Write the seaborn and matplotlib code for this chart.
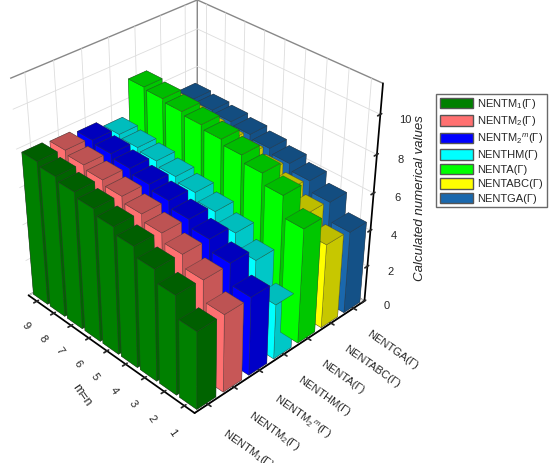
import numpy as np
import matplotlib
matplotlib.use("Agg")
import matplotlib.pyplot as plt
import matplotlib.colors as mcolors
import seaborn as sns
from matplotlib.patches import Patch

# DATA
m_values = [1, 2, 3, 4, 5, 6, 7, 8, 9]
index_labels = [r"NENTM$_1$(Γ)", r"NENTM$_2$(Γ)", r"NENTM$_2$$^m$(Γ)", "NENTHM(Γ)",
                "NENTA(Γ)", "NENTABC(Γ)", "NENTGA(Γ)"]
nentm1 = [4.2, 5.35, 6.0, 6.5, 6.85, 7.15, 7.4, 7.6, 7.8]
nentm2 = [4.2, 5.3, 5.95, 6.4, 6.75, 7.05, 7.3, 7.5, 7.7]
nentm2m = [4.25, 5.35, 5.95, 6.35, 6.7, 6.95, 7.2, 7.4, 7.55]
nenthm = [3.0, 4.7, 5.5, 6.0, 6.4, 6.65, 6.9, 7.05, 7.2]
nenta = [6.2, 7.3, 7.85, 8.2, 8.45, 8.65, 8.8, 8.95, 9.05]
nentabc = [4.6, 5.6, 6.2, 6.6, 6.9, 7.1, 7.25, 7.4, 7.5]
nentga = [4.5, 5.5, 6.05, 6.4, 6.65, 6.85, 7.0, 7.1, 7.2]
series = [nentm1, nentm2, nentm2m, nenthm, nenta, nentabc, nentga]
bar_colors = ["#008000", "#ff7070", "#0000ff", "#00ffff", "#00ff00", "#ffff00", "#1a68ad"]

sns.set_theme(style="white")
plt.rcParams["font.family"] = ["Liberation Sans", "DejaVu Sans"]
plt.rcParams["mathtext.fontset"] = "custom"
plt.rcParams["mathtext.rm"] = "Liberation Sans"
plt.rcParams["mathtext.it"] = "Liberation Sans:italic"

fig = plt.figure(figsize=(5.5, 4.63), dpi=100)
ax = fig.add_axes([-0.085, 0.065, 0.86, 1.0], projection="3d")

# bars: x = index (category), y = m
xs, ys, hs, cols = [], [], [], []
w, d = 0.72, 0.85
for ci, vals in enumerate(series):
    base = np.array(mcolors.to_rgb(bar_colors[ci]))
    dark = base * 0.78
    top = base * 0.74
    for mi, v in zip(m_values, vals):
        xs.append(ci - w / 2)
        ys.append(mi - d / 2)
        hs.append(v)
        # faces: -Z, +Z, -Y, +Y, -X, +X
        cols += [dark, top, dark, dark, base, base]

ax.bar3d(xs, ys, np.zeros(len(hs)), w, d, hs, color=cols, shade=False,
         edgecolor=(0.2, 0.2, 0.2, 0.55), linewidth=0.4)

ax.set_xlim(-0.5, 6.5)
ax.set_ylim(0.5, 9.5)
ax.set_zlim(0, 11.5)
ax.set_proj_type("persp", focal_length=0.55)
ax.view_init(elev=33.5, azim=-134)
ax.set_box_aspect((1.0, 1.02, 1.05), zoom=0.92)

ax.set_xticks(range(len(index_labels)))
ax.set_xticklabels(index_labels, fontsize=8, rotation=-35, ha="left", va="top")
ax.set_yticks(m_values)
ax.set_yticklabels([str(m) for m in m_values], fontsize=8, rotation=-55)
ax.set_zticks([0, 2, 4, 6, 8, 10])
ax.tick_params(axis="z", labelsize=8)
ax.set_ylabel("m=n", fontsize=9, rotation=-55)
ax.yaxis.set_rotate_label(False)
ax.zaxis.set_rotate_label(False)
ax.set_zlabel("Calculated numerical values", fontsize=9.5, fontstyle="italic", rotation=90,
              labelpad=2)
ax.zaxis._axinfo["juggled"] = (1, 2, 0)

for axis in (ax.xaxis, ax.yaxis, ax.zaxis):
    axis.set_pane_color((1, 1, 1, 1))
    axis.pane.set_edgecolor("#888888")
    axis._axinfo["grid"]["color"] = "#dddddd"
    axis._axinfo["grid"]["linewidth"] = 0.6
    axis.line.set_color("black")
ax.grid(True)

handles = [Patch(facecolor=c, edgecolor="#555555", label=l) for c, l in zip(bar_colors, index_labels)]
fig.legend(handles=handles, loc="upper left", bbox_to_anchor=(0.783, 0.81), fontsize=8,
           frameon=True, edgecolor="#444444", fancybox=False, handlelength=3.0,
           handleheight=1.1, borderpad=0.3, labelspacing=0.3, handletextpad=0.4)

fig.savefig("out.png", dpi=100)
